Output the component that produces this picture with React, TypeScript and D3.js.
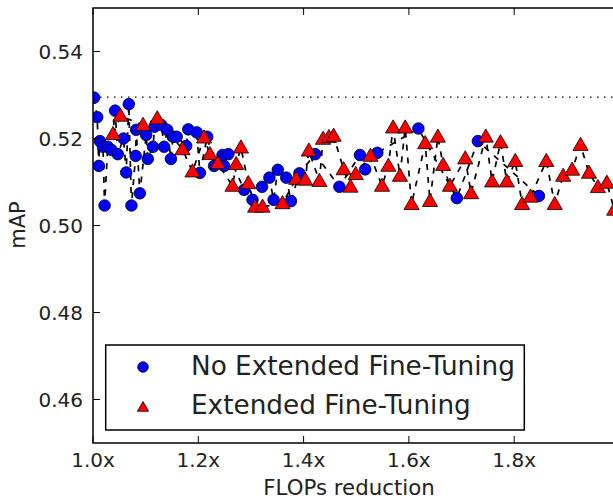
import React from 'react';
import * as d3 from 'd3';

// FLOPs reduction / mAP
const noExtX = [1.002, 1.008, 1.011, 1.013, 1.019, 1.022, 1.028, 1.035, 1.042, 1.047, 1.058, 1.063, 1.068, 1.073, 1.081, 1.082, 1.089, 1.101, 1.104, 1.114, 1.117, 1.130, 1.135, 1.141, 1.148, 1.152, 1.159, 1.177, 1.181, 1.197, 1.203, 1.217, 1.230, 1.246, 1.249, 1.257, 1.287, 1.303, 1.321, 1.335, 1.343, 1.351, 1.367, 1.376, 1.392, 1.422, 1.468, 1.507, 1.517, 1.540, 1.618, 1.691, 1.731, 1.847];
const noExtY = [0.5294, 0.5249, 0.5137, 0.5194, 0.5181, 0.5046, 0.5181, 0.5174, 0.5264, 0.5164, 0.5200, 0.5122, 0.5279, 0.5046, 0.5160, 0.5220, 0.5074, 0.5208, 0.5153, 0.5181, 0.5227, 0.5231, 0.5181, 0.5220, 0.5153, 0.5204, 0.5204, 0.5183, 0.5221, 0.5214, 0.5121, 0.5204, 0.5137, 0.5162, 0.5137, 0.5164, 0.5082, 0.5059, 0.5089, 0.5110, 0.5059, 0.5128, 0.5110, 0.5056, 0.5120, 0.5164, 0.5089, 0.5162, 0.5129, 0.5167, 0.5223, 0.5063, 0.5194, 0.5068];

const extX = [1.038, 1.052, 1.095, 1.122, 1.170, 1.189, 1.211, 1.222, 1.237, 1.265, 1.272, 1.281, 1.295, 1.308, 1.322, 1.360, 1.386, 1.403, 1.410, 1.430, 1.437, 1.448, 1.457, 1.476, 1.489, 1.499, 1.527, 1.549, 1.561, 1.570, 1.583, 1.593, 1.605, 1.631, 1.640, 1.655, 1.665, 1.678, 1.707, 1.718, 1.746, 1.758, 1.774, 1.786, 1.802, 1.815, 1.831, 1.861, 1.877, 1.893, 1.910, 1.926, 1.942, 1.959, 1.976, 1.990];
const extY = [0.5210, 0.5252, 0.5231, 0.5246, 0.5175, 0.5124, 0.5202, 0.5164, 0.5143, 0.5091, 0.5141, 0.5179, 0.5097, 0.5043, 0.5043, 0.5051, 0.5107, 0.5105, 0.5172, 0.5102, 0.5199, 0.5203, 0.5206, 0.5129, 0.5089, 0.5118, 0.5160, 0.5091, 0.5137, 0.5225, 0.5114, 0.5225, 0.5049, 0.5189, 0.5056, 0.5204, 0.5139, 0.5091, 0.5154, 0.5074, 0.5204, 0.5101, 0.5191, 0.5101, 0.5148, 0.5049, 0.5066, 0.5148, 0.5049, 0.5114, 0.5128, 0.5185, 0.5121, 0.5088, 0.5098, 0.5036];

const baseline = 0.5295;
const xTicks = [1.0, 1.2, 1.4, 1.6, 1.8];
const yTicks = [0.46, 0.48, 0.5, 0.52, 0.54];
const legendLabels = ['No Extended Fine-Tuning', 'Extended Fine-Tuning'];

const W = 613;
const H = 499;
const m = { left: 93, top: 8, right: 619.5, bottom: 443 };
const font = 'DejaVu Sans, sans-serif';

const App = () => {
  const x = d3.scaleLinear().domain([1.0, 2.0]).range([m.left, m.right]);
  const y = d3.scaleLinear().domain([0.45, 0.55]).range([m.bottom, m.top]);

  const toPts = (xs: number[], ys: number[]) =>
    xs.map((v, i) => [v, ys[i]] as [number, number]).sort((a, b) => a[0] - b[0]);
  const noExt = toPts(noExtX, noExtY);
  const ext = toPts(extX, extY);

  const line = d3.line<[number, number]>().x(d => x(d[0])).y(d => y(d[1]));
  const tri = d3.symbol().type(d3.symbolTriangle).size(100)();
  const triSmall = d3.symbol().type(d3.symbolTriangle).size(55)();

  const tickLen = 7;

  return (
    <div>
      <style>{'body{margin:0}'}</style>
      <svg width={W} height={H} style={{ display: 'block', background: '#fff' }} fontFamily={font}>
        <defs>
          <clipPath id="plot">
            <rect x={m.left} y={m.top} width={m.right - m.left} height={m.bottom - m.top} />
          </clipPath>
        </defs>

        <line x1={m.left} x2={m.right} y1={y(baseline)} y2={y(baseline)}
          stroke="#000" strokeWidth={1.3} strokeDasharray="1.5,5.5" />

        <g clipPath="url(#plot)">
          <path d={line(noExt) || ''} fill="none" stroke="#000" strokeWidth={1.7} strokeDasharray="6,7" />
          <path d={line(ext) || ''} fill="none" stroke="#000" strokeWidth={1.7} strokeDasharray="6,7" />
          {noExt.map((d, i) => (
            <circle key={'b' + i} cx={x(d[0])} cy={y(d[1])} r={5.8} fill="#0000ff" stroke="#000" strokeWidth={0.8} />
          ))}
          {ext.map((d, i) => (
            <path key={'r' + i} d={tri || ''} transform={`translate(${x(d[0])},${y(d[1]) + 1})`}
              fill="#ff0000" stroke="#000" strokeWidth={0.8} />
          ))}
        </g>

        {/* ticks, inward on all sides */}
        {xTicks.map(t => (
          <g key={'xt' + t}>
            <line x1={x(t)} x2={x(t)} y1={m.bottom} y2={m.bottom - tickLen} stroke="#000" strokeWidth={1} />
            <line x1={x(t)} x2={x(t)} y1={m.top} y2={m.top + tickLen} stroke="#000" strokeWidth={1} />
            <text x={x(t)} y={467} fontSize={20} textAnchor="middle" fill="#222">{t.toFixed(1) + 'x'}</text>
          </g>
        ))}
        {yTicks.map(t => (
          <g key={'yt' + t}>
            <line x1={m.left} x2={m.left + tickLen} y1={y(t)} y2={y(t)} stroke="#000" strokeWidth={1} />
            <text x={83} y={y(t) + 7.3} fontSize={20} textAnchor="end" fill="#222">{t.toFixed(2)}</text>
          </g>
        ))}

        <rect x={m.left} y={m.top} width={m.right - m.left} height={m.bottom - m.top}
          fill="none" stroke="#000" strokeWidth={1.5} />

        <text x={349} y={495} fontSize={21.3} textAnchor="middle" fill="#222">FLOPs reduction</text>
        <text transform="translate(25,225) rotate(-90)" fontSize={21} textAnchor="middle" fill="#222">mAP</text>

        <g>
          <rect x={105.7} y={345} width={418.6} height={85} fill="#fff" stroke="#000" strokeWidth={1.5} />
          <circle cx={143} cy={367} r={5.3} fill="#0000ff" stroke="#000" strokeWidth={0.8} />
          <path d={triSmall || ''} transform="translate(143,408)" fill="#ff0000" stroke="#000" strokeWidth={0.8} />
          <text x={191} y={375} fontSize={26.3} fill="#222">{legendLabels[0]}</text>
          <text x={191} y={414} fontSize={26.3} fill="#222">{legendLabels[1]}</text>
        </g>
      </svg>
    </div>
  );
};

export default App;
